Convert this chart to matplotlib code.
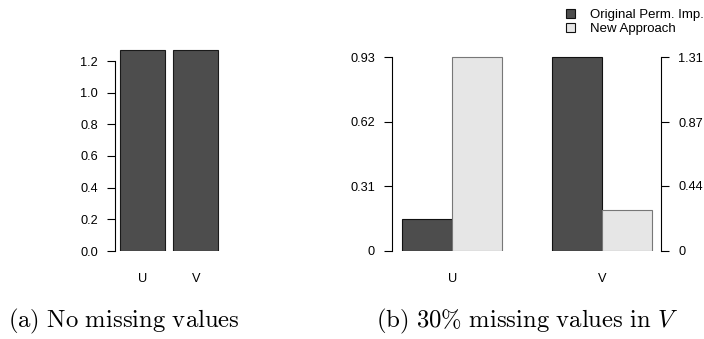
import matplotlib
matplotlib.use("Agg")
import matplotlib.pyplot as plt
from matplotlib.patches import Patch

# ---- data ----
left_categories = ["U", "V"]
left_values = [1.27, 1.27]
left_ticks = [0.0, 0.2, 0.4, 0.6, 0.8, 1.0, 1.2]

right_categories = ["U", "V"]
series_names = ["Original Perm. Imp.", "New Approach"]
u_values = [0.152, 0.93]      # left axis scale
v_values = [1.31, 0.276]      # right axis scale
u_ticks = [0, 0.31, 0.62, 0.93]
u_ticklabels = ["0", "0.31", "0.62", "0.93"]
v_ticks = [0, 0.44, 0.87, 1.31]
v_ticklabels = ["0", "0.44", "0.87", "1.31"]

captions = [r"$\mathrm{(a)\ No\ missing\ values}$",
            r"$\mathrm{(b)\ 30\%\ missing\ values\ in\ }V$"]

DARK = "#4d4d4d"
LIGHT = "#e6e6e6"

plt.rcParams["font.family"] = ["Liberation Sans", "DejaVu Sans"]
plt.rcParams["mathtext.fontset"] = "cm"

W, H = 704, 339
fig = plt.figure(figsize=(W / 100, H / 100), dpi=100)

def box(x0, x1, ybot, ytop):
    return [x0 / W, 1 - ybot / H, (x1 - x0) / W, (ybot - ytop) / H]

TICKFS = 9.2
TLEN = 6.0
TPAD = 6.3
# ---------------- panel (a) ----------------
ax = fig.add_axes(box(115, 223, 251, 40))
pos = [0, 1]
ax.bar(pos, left_values, width=0.844, color=DARK, edgecolor="#1a1a1a", linewidth=0.8)
ax.set_xlim(-0.516, 1.51)
ax.set_ylim(0, 1.2 * (251 - 40) / 190)
for s in ["top", "right", "bottom"]:
    ax.spines[s].set_visible(False)
ax.spines["left"].set_bounds(0, 1.2)
ax.spines["left"].set_linewidth(0.8)
ax.set_yticks(left_ticks)
ax.set_yticklabels([f"{t:.1f}" for t in left_ticks])
ax.tick_params(axis="y", length=TLEN, width=0.8, pad=TPAD, labelsize=TICKFS)
ax.set_xticks(pos)
ax.set_xticklabels(left_categories)
ax.tick_params(axis="x", length=0, pad=16, labelsize=TICKFS)

# ---------------- panel (b) ----------------
bx = fig.add_axes(box(392, 661, 250.7, 40))
bx2 = bx.twinx()
top_frac = (250.7 - 40) / (250.7 - 57.3)
x_l = 0.794
x_r = 6.174
bx.set_xlim(x_l, x_r)
bx2.set_xlim(x_l, x_r)
bx.bar([1.5, 2.5], u_values, width=1.0, color=[DARK, LIGHT],
       edgecolor=["#111111", "#777777"], linewidth=0.8)
bx2.bar([4.5, 5.5], v_values, width=1.0, color=[DARK, LIGHT],
        edgecolor=["#111111", "#777777"], linewidth=0.8)
bx.set_ylim(0, 0.93 * top_frac)
bx2.set_ylim(0, 1.31 * top_frac)
for a in (bx, bx2):
    for s in ["top", "bottom"]:
        a.spines[s].set_visible(False)
bx.spines["right"].set_visible(False)
bx2.spines["left"].set_visible(False)
bx.spines["left"].set_bounds(0, 0.93)
bx2.spines["right"].set_bounds(0, 1.31)
bx.spines["left"].set_linewidth(0.8)
bx2.spines["right"].set_linewidth(0.8)
bx.set_yticks(u_ticks)
bx.set_yticklabels(u_ticklabels)
bx2.set_yticks(v_ticks)
bx2.set_yticklabels(v_ticklabels)
bx.tick_params(axis="y", length=TLEN, width=0.8, pad=TPAD, labelsize=TICKFS)
bx2.tick_params(axis="y", length=TLEN, width=0.8, pad=TPAD, labelsize=TICKFS)
bx.set_xticks([2, 5])
bx.set_xticklabels(right_categories)
bx.tick_params(axis="x", length=0, pad=16, labelsize=TICKFS)
bx2.tick_params(axis="x", length=0, labelbottom=False)

handles = [Patch(facecolor=DARK, edgecolor="#111111", linewidth=0.8),
           Patch(facecolor=LIGHT, edgecolor="#111111", linewidth=0.8)]
fig.legend(handles, series_names, loc="upper left",
           bbox_to_anchor=(566 / W, 1 - 9 / H), frameon=False,
           fontsize=9.5, handlelength=0.65, handleheight=0.65,
           handletextpad=1.2, labelspacing=0.15, borderpad=0, borderaxespad=0)

fig.text(8 / W, 1 - 327 / H, captions[0], fontsize=17.8, va="baseline", ha="left")
fig.text(376 / W, 1 - 327 / H, captions[1], fontsize=17.8, va="baseline", ha="left")

fig.savefig("out.png", dpi=100)
